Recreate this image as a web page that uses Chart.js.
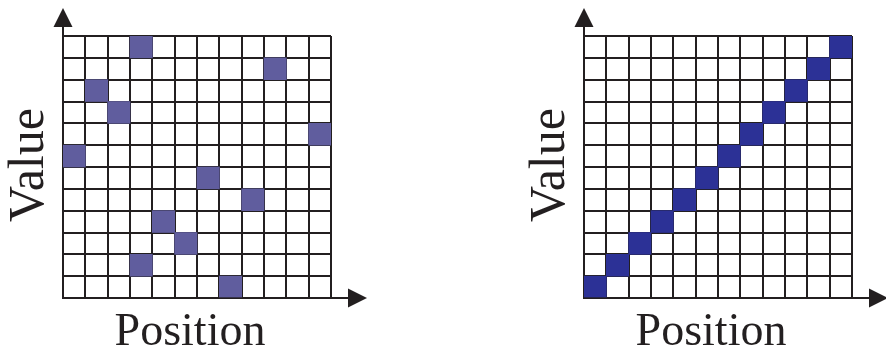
<!DOCTYPE html>
<html><head><meta charset="utf-8">
<script src="https://cdn.jsdelivr.net/npm/chart.js@4.4.0/dist/chart.umd.min.js"></script>
<style>
html,body{margin:0;padding:0;background:#fff;width:886px;height:350px;overflow:hidden}
.c{position:absolute;top:0;width:400px;height:350px}
</style></head><body>
<div class="c" style="left:0"><canvas id="a" width="400" height="350"></canvas></div>
<div class="c" style="left:521px"><canvas id="b" width="400" height="350"></canvas></div>
<script>
const positions = ['0','1','2','3','4','5','6','7','8','9','10','11'];
const leftValues = [6, 9, 8, 11, 3, 2, 5, 0, 4, 10, null, 7];
const leftExtraValues = [null, null, null, 1, null, null, null, null, null, null, null, null];
const rightValues = [0, 1, 2, 3, 4, 5, 6, 7, 8, 9, 10, 11];
const xTitle = 'Position';
const yTitle = 'Value';
const valueMax = 12;

const INK = '#231f20';

function cells(vals){ return vals.map(v => v === null ? null : [v, v + 1]); }

const decor = {
  id: 'decor',
  afterDraw(chart){
    const ctx = chart.ctx, a = chart.chartArea;
    ctx.save();
    ctx.fillStyle = INK; ctx.strokeStyle = INK; ctx.lineWidth = 2;
    // y axis extension + arrow
    ctx.beginPath(); ctx.moveTo(a.left, a.top + 1); ctx.lineTo(a.left, a.top - 10); ctx.stroke();
    ctx.beginPath(); ctx.moveTo(a.left, a.top - 28); ctx.lineTo(a.left - 9.5, a.top - 9); ctx.lineTo(a.left + 9.5, a.top - 9); ctx.closePath(); ctx.fill();
    // x axis extension + arrow
    ctx.beginPath(); ctx.moveTo(a.right - 1, a.bottom); ctx.lineTo(a.right + 18, a.bottom); ctx.stroke();
    ctx.beginPath(); ctx.moveTo(a.right + 36, a.bottom); ctx.lineTo(a.right + 17, a.bottom - 9.5); ctx.lineTo(a.right + 17, a.bottom + 9.5); ctx.closePath(); ctx.fill();
    // titles
    ctx.textAlign = 'center'; ctx.textBaseline = 'alphabetic';
    ctx.font = '46px "Liberation Serif"';
    ctx.fillText(chart.options.plugins.decor.xText, (a.left + a.right) / 2 - 7, a.bottom + 47);
    ctx.font = '50px "Liberation Serif"';
    ctx.translate(a.left - 20, (a.top + a.bottom) / 2 - 2);
    ctx.rotate(-Math.PI / 2);
    ctx.fillText(chart.options.plugins.decor.yText, 0, 0);
    ctx.restore();
  }
};

function makeChart(id, sets){
  const axis = {
    z: 1,
    grid: { color: INK, lineWidth: 2, drawTicks: false },
    border: { display: true, color: INK, width: 2 },
    ticks: { display: false }
  };
  return new Chart(document.getElementById(id), {
    type: 'bar',
    data: { labels: positions, datasets: sets },
    options: {
      responsive: false, animation: false,
      layout: { padding: { left: 63, top: 36, right: 69, bottom: 52 } },
      plugins: { legend: { display: false }, tooltip: { enabled: false }, decor: { xText: xTitle, yText: yTitle } },
      scales: {
        x: Object.assign({}, axis, { grid: Object.assign({}, axis.grid, { offset: true }) }),
        y: Object.assign({}, axis, { min: 0, max: valueMax, ticks: { display: false, stepSize: 1 } })
      }
    },
    plugins: [decor]
  });
}

const ds = (vals, color) => ({ data: cells(vals), backgroundColor: color, borderWidth: 0, barPercentage: 1, categoryPercentage: 1, grouped: false });

makeChart('a', [ds(leftValues, '#605d9e'), ds(leftExtraValues, '#605d9e')]);
makeChart('b', [ds(rightValues, '#2c3196')]);
</script>
</body></html>
